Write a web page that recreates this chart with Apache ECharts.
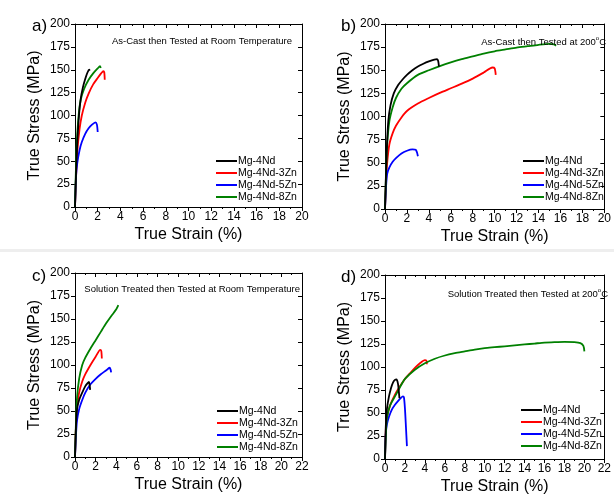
<!DOCTYPE html>
<html>
<head>
<meta charset="utf-8">
<script src="https://cdn.jsdelivr.net/npm/echarts@6/dist/echarts.min.js"></script>
<style>
html,body{margin:0;padding:0;background:#fff;}
#c{width:614px;height:498px;}
</style>
</head>
<body>
<div id="c"></div>
<script>
// ---------- DATA ----------
const seriesNames = ['Mg-4Nd', 'Mg-4Nd-3Zn', 'Mg-4Nd-5Zn', 'Mg-4Nd-8Zn'];
const panelLetters = ['a)', 'b)', 'c)', 'd)'];
const panelTitles = [
  ['As-Cast then Tested at Room Temperature', ''],
  ['As-Cast then Tested at 200', 'C'],
  ['Solution Treated then Tested at Room Temperature', ''],
  ['Solution Treated then Tested at 200', 'C']
];
const xMaxes = [20, 20, 22, 22];
const yTicks = [0, 25, 50, 75, 100, 125, 150, 175, 200];

// Panel a: As-cast, room temperature  [strain %, stress MPa]
const a_4Nd = [[0,0],[0.1,40],[0.2,70],[0.35,100],[0.5,118],[0.7,131],[0.9,140],[1.1,147],[1.25,150],[1.3,149]];
const a_3Zn = [[0,0],[0.1,35],[0.2,60],[0.4,85],[0.6,100],[0.9,114],[1.2,124],[1.6,134],[2.0,141],[2.3,146],[2.5,148.5],[2.58,147],[2.62,139]];
const a_5Zn = [[0,0],[0.05,20],[0.1,35],[0.2,48],[0.4,62],[0.6,71],[0.9,80],[1.2,86],[1.5,90],[1.8,92.5],[1.93,90],[2.0,82]];
const a_8Zn = [[0,0],[0.1,50],[0.2,80],[0.35,104],[0.5,117],[0.8,129],[1.2,139],[1.6,146],[2.0,151.5],[2.2,154],[2.27,152]];

// Panel b: As-cast, 200 C
const b_4Nd = [[0,0],[0.15,60],[0.3,95],[0.5,112],[0.8,125],[1.2,134],[1.6,140],[2.0,145],[2.5,150],[3.0,154],[3.5,157],[4.0,159.5],[4.5,161.5],[4.75,162],[4.85,160],[4.92,154]];
const b_3Zn = [[0,0],[0.1,30],[0.2,50],[0.4,70],[0.7,82],[1.0,90],[1.5,99],[2.0,106],[3.0,114],[4.0,120],[5.0,125.5],[6.0,130.5],[7.0,135.5],[8.0,141],[9.0,147.5],[9.8,153],[10.0,152],[10.1,145]];
const b_5Zn = [[0,0],[0.1,25],[0.2,38],[0.4,45],[0.7,51],[1.0,55],[1.5,60],[2.0,63],[2.5,64.5],[2.8,64],[2.92,61],[3.0,57]];
const b_8Zn = [[0,0],[0.1,40],[0.2,70],[0.4,95],[0.7,110],[1.0,120],[1.5,130],[2.0,136],[3.0,145],[4.0,150],[5.0,154.5],[6.0,158.5],[7.0,162],[8.0,165],[9.0,168],[10.0,170.5],[11.0,172.5],[12.0,174.5],[13.0,176],[14.0,177.5],[15.0,178.5],[15.4,178],[15.6,176.5]];

// Panel c: Solution treated, room temperature
const c_4Nd = [[0,0],[0.1,35],[0.2,52],[0.4,62],[0.7,70],[1.0,77],[1.2,80],[1.35,81.5],[1.42,78],[1.47,73]];
const c_3Zn = [[0,0],[0.1,35],[0.2,55],[0.4,70],[0.7,82],[1.0,90],[1.5,100],[2.0,109],[2.45,116.5],[2.55,115],[2.6,107]];
const c_5Zn = [[0,0],[0.1,25],[0.2,40],[0.4,52],[0.7,62],[1.0,70],[1.5,79],[2.0,85],[2.5,90],[3.0,94],[3.35,97],[3.45,95],[3.5,92]];
const c_8Zn = [[0,0],[0.1,40],[0.2,65],[0.4,85],[0.7,100],[1.0,108],[1.5,118],[2.0,127],[2.5,136],[3.0,145],[3.5,153],[4.0,160.5],[4.2,165]];

// Panel d: Solution treated, 200 C
const d_4Nd = [[0,0],[0.05,25],[0.1,40],[0.2,55],[0.4,68],[0.6,77],[0.8,83],[1.0,86],[1.15,86.5],[1.3,82],[1.4,72],[1.45,66]];
const d_3Zn = [[0,0],[0.05,20],[0.1,35],[0.2,45],[0.5,58],[1.0,70],[1.5,79],[2.0,87],[2.5,93],[3.0,99],[3.5,104],[4.0,107.5],[4.15,107],[4.2,103]];
const d_5Zn = [[0,0],[0.05,20],[0.1,30],[0.2,38],[0.4,46],[0.7,54],[1.0,59],[1.3,63],[1.6,66.5],[1.8,68],[1.9,67],[2.0,55],[2.1,35],[2.2,14]];
const d_8Zn = [[0,0],[0.1,30],[0.2,45],[0.5,58],[1.0,68],[1.5,78],[2.0,87],[3.0,97],[4.0,104],[5.0,109],[6.0,112.5],[7.0,115],[8.0,117],[9.0,119],[10.0,120.5],[11.0,121.5],[12.0,122.5],[13.0,123.5],[14.0,124.5],[15.0,125.5],[16.0,126.5],[17.0,127],[18.0,127.3],[19.0,127],[19.6,126],[19.9,123],[20.0,117]];

const panelData = [
  [a_4Nd, a_3Zn, a_5Zn, a_8Zn],
  [b_4Nd, b_3Zn, b_5Zn, b_8Zn],
  [c_4Nd, c_3Zn, c_5Zn, c_8Zn],
  [d_4Nd, d_3Zn, d_5Zn, d_8Zn]
];

// ---------- STYLE / LAYOUT ----------
const colors = ['#000000', '#ff0000', '#0000ff', '#008000'];
const FONT = 'Liberation Sans, Arial, sans-serif';
const grids = [
  {left: 75, top: 24, width: 227, height: 183},
  {left: 385, top: 24, width: 229, height: 185},
  {left: 75, top: 273, width: 227, height: 184},
  {left: 385, top: 275, width: 232, height: 184}
];
const letterPos = [[27, 13], [336, 13], [27, 263], [336, 264]];
const titleRight = [317, 3, 309, 1];
const titleTop = [29, 30, 277, 282];
const legendPos = [[215, 155], [522, 155], [216, 405], [520, 404]];

const xAxes = [], yAxes = [], series = [], titles = [], legends = [];
const axisLineStyle = {color: '#000', width: 1};
for (let p = 0; p < 4; p++) {
  xAxes.push({
    type: 'value', gridIndex: p, min: 0, max: xMaxes[p], interval: 2,
    name: 'True Strain (%)', nameLocation: 'middle', nameGap: 20,
    nameTextStyle: {fontFamily: FONT, fontSize: 16, color: '#000'},
    axisLine: {show: true, onZero: false, lineStyle: axisLineStyle},
    axisTick: {show: true, inside: false, length: 4, lineStyle: axisLineStyle},
    minorTick: {show: true, splitNumber: 2, length: 2, lineStyle: axisLineStyle},
    axisLabel: {fontFamily: FONT, fontSize: 12, color: '#000', margin: 4, showMaxLabel: true},
    splitLine: {show: false}
  });
  yAxes.push({
    type: 'value', gridIndex: p, min: 0, max: 200, interval: 25,
    name: 'True Stress (MPa)', nameLocation: 'middle', nameGap: 32,
    nameTextStyle: {fontFamily: FONT, fontSize: 16, color: '#000'},
    axisLine: {show: true, onZero: false, lineStyle: axisLineStyle},
    axisTick: {show: true, inside: false, length: 4, lineStyle: axisLineStyle},
    minorTick: {show: false},
    axisLabel: {fontFamily: FONT, fontSize: 12, color: '#000', margin: 5},
    splitLine: {show: false}
  });
  titles.push({
    text: panelLetters[p], left: letterPos[p][0], top: letterPos[p][1],
    textStyle: {fontFamily: FONT, fontSize: 17, fontWeight: 'normal', color: '#000'}
  });
  const t = panelTitles[p];
  titles.push({
    text: t[1] ? '{n|' + t[0] + '}{s|o}{n|' + t[1] + '}' : '{n|' + t[0] + '}',
    right: titleRight[p], top: titleTop[p],
    textStyle: {fontWeight: 'normal', rich: {
      n: {fontFamily: FONT, fontSize: 9.5, fontWeight: 'normal', color: '#000', verticalAlign: 'bottom', lineHeight: 12},
      s: {fontFamily: FONT, fontSize: 6, fontWeight: 'normal', color: '#000', verticalAlign: 'top', lineHeight: 12, padding: [0, 0, 4, 0]}
    }}
  });
  legends.push({
    data: seriesNames, orient: 'vertical', left: legendPos[p][0], top: legendPos[p][1],
    itemWidth: 21, itemHeight: 2, itemGap: 0, padding: 0,
    textStyle: {fontFamily: FONT, fontSize: 10.5, color: '#000', lineHeight: 12, padding: [0, 0, 0, -4]},
    selectedMode: false
  });
  for (let s = 0; s < 4; s++) {
    series.push({
      type: 'line', name: seriesNames[s], xAxisIndex: p, yAxisIndex: p,
      data: panelData[p][s], symbol: 'none', smooth: 0.25,
      lineStyle: {color: colors[s], width: 1.8}, itemStyle: {color: colors[s]},
      z: s === 0 ? 5 : 3
    });
  }
}
// mirror axes (top / right frame)
for (let p = 0; p < 4; p++) {
  xAxes.push({
    type: 'value', gridIndex: p, min: 0, max: xMaxes[p], interval: 2, position: 'top',
    axisLine: {show: true, onZero: false, lineStyle: axisLineStyle},
    axisTick: {show: true, inside: true, length: 4, lineStyle: axisLineStyle},
    minorTick: {show: true, splitNumber: 2, length: 2, lineStyle: axisLineStyle},
    axisLabel: {show: false}, splitLine: {show: false}
  });
  yAxes.push({
    type: 'value', gridIndex: p, min: 0, max: 200, interval: 25, position: 'right',
    axisLine: {show: true, onZero: false, lineStyle: axisLineStyle},
    axisTick: {show: true, inside: true, length: 4, lineStyle: axisLineStyle},
    axisLabel: {show: false}, splitLine: {show: false}
  });
}

const chart = echarts.init(document.getElementById('c'), null, {renderer: 'canvas'});
chart.setOption({
  backgroundColor: '#fff',
  animation: false,
  title: titles,
  legend: legends,
  grid: grids,
  xAxis: xAxes,
  yAxis: yAxes,
  series: series,
  graphic: [{type: 'rect', shape: {x: 0, y: 249, width: 614, height: 3}, style: {fill: '#eeeeee'}, z: -1}]
});
</script>
</body>
</html>
